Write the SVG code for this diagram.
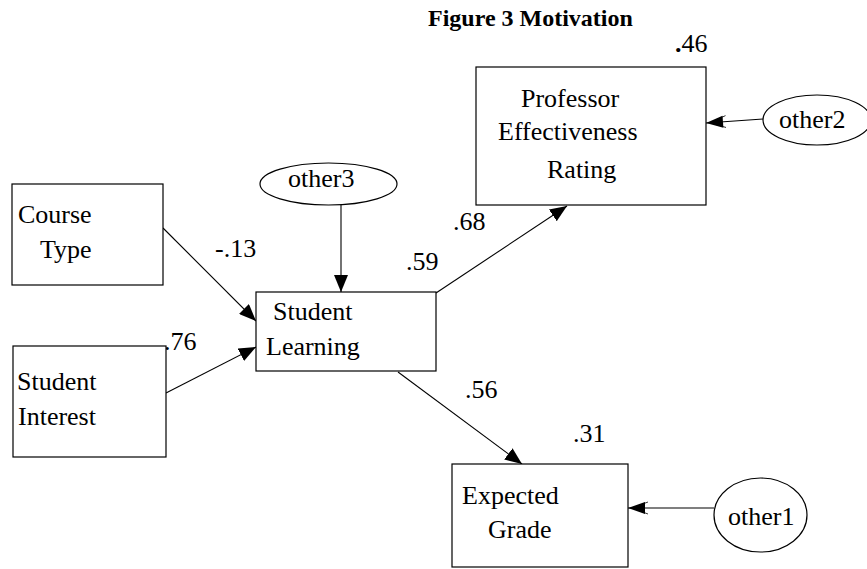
<svg xmlns="http://www.w3.org/2000/svg" width="867" height="569" viewBox="0 0 867 569">
<style>
text{font-family:"Liberation Serif","Times New Roman",serif;font-size:26px;fill:#000}
.title{font-weight:bold;font-size:24px}
.box{fill:#fff;stroke:#000;stroke-width:1.2}
.ell{fill:#fff;stroke:#000;stroke-width:1.2}
.edge{fill:none;stroke:#000;stroke-width:1.1;marker-end:url(#arr)}
.edge2{fill:none;stroke:#000;stroke-width:1.1;marker-end:url(#arr2)}
</style>
<defs>
<marker id="arr" viewBox="0 0 17 14" refX="17" refY="7" markerWidth="17" markerHeight="14" markerUnits="userSpaceOnUse" orient="auto">
<path d="M0,0 L17,7 L0,14 z" fill="#000"/>
</marker>
<marker id="arr2" viewBox="0 0 20 14" refX="20" refY="7" markerWidth="20" markerHeight="14" markerUnits="userSpaceOnUse" orient="auto">
<path d="M0,1 L16,7 L0,13" fill="none" stroke="#000" stroke-width="0.8"/>
<path d="M3,1 L20,7 L3,13 z" fill="#000"/>
</marker>
</defs>
<rect width="867" height="569" fill="#fff"/>
<text class="title" x="428" y="26">Figure 3 Motivation</text>

<g id="connectors">
<line class="edge" x1="163" y1="228" x2="256" y2="321"/>
<line class="edge" x1="166" y1="393" x2="256" y2="347"/>
<line class="edge" x1="341" y1="205" x2="341" y2="292"/>
<line class="edge" x1="436" y1="293" x2="567" y2="206"/>
<line class="edge" x1="398" y1="372" x2="522" y2="464"/>
<line class="edge2" x1="714" y1="508" x2="628" y2="508"/>
<line class="edge2" x1="763" y1="119" x2="706" y2="123"/>
<text x="215" y="257">-.13</text>
<text x="164" y="350">.76</text>
<text x="406" y="270">.59</text>
<text x="453" y="230">.68</text>
<text x="465" y="398">.56</text>
</g>

<g id="professor">
<rect class="box" x="476" y="67" width="230" height="138"/>
<text x="521" y="107">Professor</text>
<text x="498" y="140">Effectiveness</text>
<text x="547" y="178">Rating</text>
<text x="675" y="52"><tspan font-weight="bold">.</tspan>46</text>
</g>

<g id="other2">
<ellipse class="ell" cx="817" cy="120" rx="54" ry="25"/>
<text x="779" y="128">other2</text>
</g>

<g id="other3">
<ellipse class="ell" cx="328.5" cy="184" rx="68.5" ry="21"/>
<text x="288" y="187">other3</text>
</g>

<g id="course-type">
<rect class="box" x="12" y="184" width="151" height="101"/>
<text x="18" y="223">Course</text>
<text x="40" y="258">Type</text>
</g>

<g id="student-interest">
<rect class="box" x="13" y="346" width="153" height="111"/>
<text x="17" y="390">Student</text>
<text x="18" y="425">Interest</text>
</g>

<g id="student-learning">
<rect class="box" x="256" y="292" width="180" height="79"/>
<text x="273" y="320">Student</text>
<text x="266" y="355">Learning</text>
</g>

<g id="expected-grade">
<rect class="box" x="452" y="464" width="176" height="103"/>
<text x="462" y="504">Expected</text>
<text x="488" y="538">Grade</text>
<text x="573" y="442">.31</text>
</g>

<g id="other1">
<ellipse class="ell" cx="760.5" cy="515" rx="46.5" ry="37"/>
<text x="728" y="525">other1</text>
</g>
</svg>
